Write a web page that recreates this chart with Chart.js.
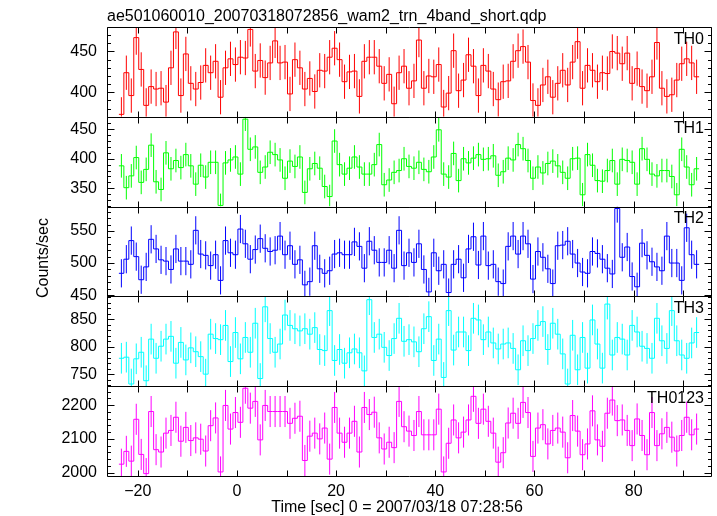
<!DOCTYPE html>
<html lang="en">
<head>
<meta charset="UTF-8">
<title>ae501060010 WAM light curve</title>
<script src="https://cdn.jsdelivr.net/npm/chart.js"></script>
<style>
    html, body { margin: 0; padding: 0; background: #fff; }
    #wrap { width: 717px; height: 516px; }
</style>
</head>
<body>
<div id="wrap"><canvas id="lc" width="717" height="516"></canvas></div>
<script>
// 1 s bins, time in sec from 2007/03/18 07:28:56
var binStart = -23.8;
var binWidth = 1.0;

var th0 = [373, 424, 396, 467, 428, 384, 407, 404, 405, 388, 430, 474, 396, 447, 411, 404, 412, 433, 424, 438,
    394, 430, 441, 434, 443, 442, 477, 426, 439, 418, 436, 463, 436, 437, 398, 440, 430, 404, 417, 401,
    427, 426, 443, 454, 440, 413, 425, 426, 395, 438, 443, 443, 432, 411, 422,
    386, 424, 432, 405, 414, 464, 405, 420, 419, 434, 382, 399, 451, 402, 415, 446, 432, 396, 433, 426,
    404, 391, 413, 414, 438, 451, 456, 437, 390, 384, 409, 419, 394, 411, 427, 409, 437, 462, 405, 433,
    427, 413, 424, 423, 450, 448, 435, 448, 411, 429, 407, 402, 419, 461, 405, 395, 397, 415, 435, 441,
    436, 419];
var th1 = [388, 351, 371, 402, 360, 382, 423, 361, 348, 410, 383, 397, 385, 407, 388, 357, 389, 369, 394, 394,
    321, 393, 398, 403, 374, 467, 416, 420, 377, 386, 411, 407, 398, 367, 396, 387, 403, 343, 383, 392,
    384, 353, 336, 430, 390, 374, 384, 403, 386, 374, 374, 390, 424, 356, 364,
    377, 380, 400, 387, 384, 394, 382, 378, 403, 449, 374, 369, 409, 363, 400, 393, 401, 407, 399, 400,
    405, 372, 378, 401, 398, 424, 417, 397, 367, 386, 376, 392, 396, 388, 377, 367, 400, 401, 339, 407,
    389, 363, 362, 380, 397, 357, 399, 397, 394, 357, 417, 399, 374, 371, 380, 380, 370, 339, 416, 386,
    356, 383];
var th2 = [484, 506, 535, 510, 474, 494, 537, 522, 505, 503, 490, 522, 503, 503, 498, 551, 514, 512, 496, 513,
    473, 535, 516, 513, 553, 530, 506, 521, 538, 523, 518, 520, 542, 513, 527, 498, 505, 466, 471, 527,
    491, 484, 488, 514, 516, 513, 513, 533, 526, 492, 534, 520, 501, 501, 520,
    492, 551, 496, 516, 501, 530, 490, 455, 516, 488, 498, 454, 498, 506, 477, 522, 541, 497, 542, 496,
    498, 471, 468, 526, 542, 514, 542, 530, 475, 518, 509, 491, 468, 527, 528, 534, 514, 500, 486, 484,
    518, 515, 506, 492, 483, 585, 509, 525, 479, 463, 531, 512, 502, 494, 488, 542, 500, 500, 473, 555,
    513, 498];
var th3 = [779, 781, 732, 778, 790, 738, 814, 779, 801, 814, 819, 770, 808, 776, 798, 791, 782, 750, 823, 815,
    813, 839, 773, 826, 778, 817, 790, 843, 742, 873, 815, 790, 805, 858, 839, 833, 829, 833, 823, 835,
    795, 793, 866, 775, 795, 770, 789, 796, 789, 756, 886, 817, 823, 799, 784,
    815, 852, 810, 813, 809, 791, 833, 855, 775, 814, 744, 866, 794, 827, 827, 793, 852, 849, 813, 827,
    807, 796, 805, 807, 797, 758, 811, 793, 815, 839, 846, 795, 843, 823, 787, 732, 821, 758, 817, 761,
    849, 805, 761, 878, 785, 817, 814, 785, 839, 827, 801, 797, 779, 852, 811, 797, 866, 811, 785, 779,
    807, 826];
var th0123 = [2025, 2063, 2034, 2158, 2054, 1997, 2181, 2068, 2061, 2117, 2125, 2164, 2093, 2134, 2095, 2103, 2099, 2064, 2139, 2162,
    2002, 2199, 2129, 2178, 2149, 2250, 2191, 2211, 2097, 2199, 2181, 2181, 2181, 2181, 2146, 2161, 2167, 2036, 2108, 2117,
    2100, 2132, 2040, 2193, 2117, 2090, 2117, 2152, 2061, 2193, 2172, 2179, 2103, 2070, 2090,
    2074, 2211, 2136, 2123, 2110, 2181, 2112, 2112, 2112, 2188, 2002, 2087, 2156, 2103, 2120, 2156, 2226, 2146, 2188, 2152,
    2117, 2031, 2059, 2147, 2176, 2146, 2208, 2178, 2048, 2132, 2142, 2085, 2125, 2132, 2120, 2044, 2169, 2123, 2053, 2085,
    2183, 2097, 2078, 2176, 2215, 2154, 2156, 2125, 2080, 2159, 2110, 2053, 2178, 2080, 2115, 2134, 2105, 2064, 2110, 2164,
    2112, 2129];

var bandNames = ['TH0', 'TH1', 'TH2', 'TH3', 'TH0123'];
var bandRates = [th0, th1, th2, th3, th0123];
var bandErr = [21, 20, 22, 28, 46];          // half length of the error bars
var bandColors = ['#ff0000', '#00ff00', '#0000ff', '#00ffff', '#ff00ff'];
var yMin = [370, 319, 448, 728, 1990];
var yMax = [480, 471, 588, 892, 2256];
var yStep = [50, 50, 50, 50, 100];
var yMinor = [10, 10, 10, 10, 20];
var xMin = -26.2, xMax = 95.6;

var FONT = "'Liberation Sans', Arial, Helvetica, sans-serif";

// build datasets: histogram steps + error bars for every band
var datasets = [];
bandRates.forEach(function (rates, k) {
    var steps = [], bars = [];
    for (var i = 0; i < rates.length; i++) {
        var left = binStart + i * binWidth;
        var mid = left + binWidth / 2;
        steps.push({ x: left, y: rates[i] });
        bars.push({ x: mid, y: rates[i] - bandErr[k] });
        bars.push({ x: mid, y: rates[i] + bandErr[k] });
        bars.push({ x: mid, y: null });
    }
    steps.push({ x: binStart + rates.length * binWidth, y: rates[rates.length - 1] });

    datasets.push({
        label: bandNames[k] + ' err', data: bars, yAxisID: 'y' + k,
        borderColor: bandColors[k], borderWidth: 1, pointRadius: 0, spanGaps: false
    });
    datasets.push({
        label: bandNames[k], data: steps, yAxisID: 'y' + k,
        borderColor: bandColors[k], borderWidth: 1, pointRadius: 0, stepped: true
    });
});

function yAxis(k) {
    return {
        type: 'linear', position: 'left', stack: 'bands', stackWeight: 1,
        min: yMin[k], max: yMax[k],
        grid: { display: false, drawTicks: false },
        border: { display: false },
        ticks: {
            padding: 10, color: '#000',
            font: { family: FONT, size: 16 },
            callback: function (v) { return String(v); }
        },
        afterBuildTicks: function (s) {
            var t = [];
            for (var v = Math.ceil(yMin[k] / yStep[k]) * yStep[k]; v <= yMax[k]; v += yStep[k]) t.push({ value: v });
            s.ticks = t;
        },
        afterFit: function (s) { s.width = 107; }
    };
}

var scales = {
    x: {
        type: 'linear', position: 'bottom', min: xMin, max: xMax,
        grid: { display: false, drawTicks: false },
        border: { display: false },
        ticks: {
            padding: 6, color: '#000', maxRotation: 0, autoSkip: false,
            font: { family: FONT, size: 16 },
            callback: function (v) { return v < 0 ? '\u2212' + (-v) : String(v); }
        },
        afterBuildTicks: function (s) {
            var t = [];
            for (var v = Math.ceil(xMin / 20) * 20; v <= xMax; v += 20) t.push({ value: v });
            s.ticks = t;
        },
        afterFit: function (s) { s.height = 40; }
    }
};
// stacked axes are laid out bottom-up, so add the lowest panel first
for (var k = bandNames.length - 1; k >= 0; k--) scales['y' + k] = yAxis(k);

// frame, inward ticks, panel names and titles
var panelFrame = {
    id: 'panelFrame',
    beforeDatasetDraw: function (chart, args) {
        var ys = chart.scales[chart.data.datasets[args.index].yAxisID];
        var a = chart.chartArea, ctx = chart.ctx;
        ctx.save();
        ctx.beginPath();
        ctx.rect(a.left, ys.top, a.right - a.left, ys.bottom - ys.top);
        ctx.clip();
    },
    afterDatasetDraw: function (chart) {
        chart.ctx.restore();
    },
    afterDraw: function (chart) {
        var ctx = chart.ctx, a = chart.chartArea, xs = chart.scales.x;
        ctx.save();
        ctx.strokeStyle = '#000';
        ctx.lineWidth = 1;
        ctx.beginPath();
        for (var k = 0; k < bandNames.length; k++) {
            var ys = chart.scales['y' + k];
            var top = Math.round(ys.top) + 0.5, bot = Math.round(ys.bottom) + 0.5;
            var l = Math.round(a.left) + 0.5, r = Math.round(a.right) + 0.5;
            ctx.moveTo(l, top); ctx.lineTo(r, top); ctx.lineTo(r, bot); ctx.lineTo(l, bot); ctx.lineTo(l, top);
            // x ticks every 10 s, top and bottom of each panel
            for (var t = Math.ceil(xMin / 10) * 10; t <= xMax; t += 10) {
                var px = Math.round(xs.getPixelForValue(t)) + 0.5;
                ctx.moveTo(px, top); ctx.lineTo(px, top + 6);
                ctx.moveTo(px, bot); ctx.lineTo(px, bot - 6);
            }
            // y ticks, left and right
            for (var v = Math.ceil(yMin[k] / yMinor[k]) * yMinor[k]; v <= yMax[k]; v += yMinor[k]) {
                var py = Math.round(ys.getPixelForValue(v)) + 0.5;
                var len = (v % yStep[k] === 0) ? 7 : 3.5;
                ctx.moveTo(l, py); ctx.lineTo(l + len, py);
                ctx.moveTo(r, py); ctx.lineTo(r - len, py);
            }
        }
        ctx.stroke();

        ctx.fillStyle = '#000';
        ctx.font = '16px ' + FONT;
        ctx.textBaseline = 'alphabetic';
        ctx.textAlign = 'right';
        for (var j = 0; j < bandNames.length; j++) {
            ctx.fillText(bandNames[j], a.right - 7, chart.scales['y' + j].top + 16.5);
        }
        ctx.textAlign = 'left';
        ctx.fillText('ae501060010_20070318072856_wam2_trn_4band_short.qdp', a.left, 21);
        ctx.textAlign = 'center';
        ctx.fillText('Time [sec] 0 = 2007/03/18 07:28:56', 397, 512);
        ctx.translate(48, 258);
        ctx.rotate(-Math.PI / 2);
        ctx.fillText('Counts/sec', 0, 0);
        ctx.restore();
    }
};

new Chart(document.getElementById('lc'), {
    type: 'line',
    data: { datasets: datasets },
    options: {
        responsive: false,
        animation: false,
        events: [],
        layout: { padding: { left: 0, right: 6, top: 27, bottom: 0 } },
        plugins: { legend: { display: false }, tooltip: { enabled: false }, title: { display: false } },
        scales: scales
    },
    plugins: [panelFrame]
});
</script>
</body>
</html>
